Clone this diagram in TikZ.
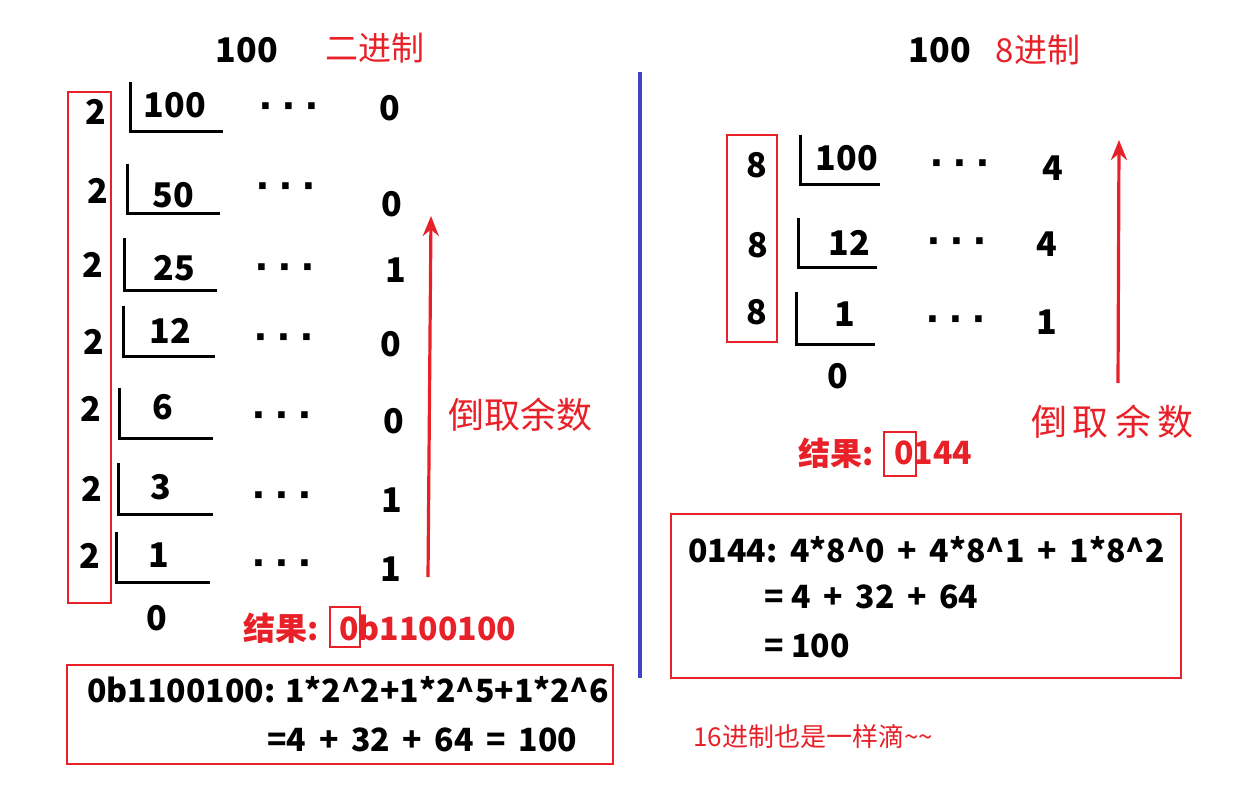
\documentclass[tikz,border=0pt]{standalone}
\usepackage{fontspec}
\setmainfont{Noto Sans CJK SC}
\newfontfamily\dotfont{Liberation Sans}
\usetikzlibrary{arrows.meta}
\definecolor{markred}{RGB}{232,32,40}
\definecolor{divblue}{RGB}{66,66,196}
\newcommand{\ellip}{·\hspace{4pt}·\hspace{4pt}·}
\tikzset{
	num/.style={font=\bfseries\fontsize{17}{17}\selectfont},
	sumtext/.style={font=\bfseries\fontsize{16}{16}\selectfont, anchor=west, inner sep=0pt},
	dots/.style={font=\dotfont\bfseries\fontsize{23}{23}\selectfont, yshift=-3.5pt},
	title/.style={text=markred, font=\fontsize{16.5}{16.5}\selectfont},
	backnote/.style={text=markred, font=\fontsize{18}{18}\selectfont},
	result/.style={text=markred, font=\bfseries\fontsize{16}{16}\selectfont},
	redbox/.style={draw=markred, line width=1.4pt},
	bracket/.style={line width=1.5pt},
	uparrow/.style={draw=markred, line width=1.6pt, -{Stealth[length=10pt,width=8pt]}}
}

\begin{document}
\begin{tikzpicture}[x=0.5pt, y=-0.5pt]
		%%%%% START %%%%%
		\useasboundingbox (0, 0) rectangle (1234, 786);
		
		% left half: 100 in base 2
		\node[num] (btitle) at (247, 50) {100};
		\node[title] (bname) at (375, 48) {二进制};
		
		\draw[redbox] (68, 92) rectangle (111, 603);
		
		\node[num] (d1) at (96, 112) {2};
		\node[num] (d2) at (98, 191) {2};
		\node[num] (d3) at (93, 265) {2};
		\node[num] (d4) at (94, 342) {2};
		\node[num] (d5) at (91, 409) {2};
		\node[num] (d6) at (92, 489) {2};
		\node[num] (d7) at (90, 556) {2};
		
		\draw[bracket] (130, 82) |- (223, 132);
		\draw[bracket] (127, 164) |- (220, 213);
		\draw[bracket] (124, 238) |- (217, 290);
		\draw[bracket] (123, 306) |- (215, 356);
		\draw[bracket] (119, 388) |- (213, 438);
		\draw[bracket] (118, 463) |- (213, 514);
		\draw[bracket] (116, 532) |- (210, 582);
		
		\node[num] (q1) at (175, 105) {100};
		\node[num] (q2) at (173, 195) {50};
		\node[num] (q3) at (174, 268) {25};
		\node[num] (q4) at (170, 331) {12};
		\node[num] (q5) at (163, 407) {6};
		\node[num] (q6) at (161, 487) {3};
		\node[num] (q7) at (159, 555) {1};
		\node[num] (q8) at (157, 618) {0};
		
		\node[dots] (s1) at (290, 105) {\ellip};
		\node[dots] (s2) at (287, 185) {\ellip};
		\node[dots] (s3) at (286, 266) {\ellip};
		\node[dots] (s4) at (285, 336) {\ellip};
		\node[dots] (s5) at (283, 414) {\ellip};
		\node[dots] (s6) at (283, 494) {\ellip};
		\node[dots] (s7) at (283, 562) {\ellip};
		
		\node[num] (r1) at (390, 108) {0};
		\node[num] (r2) at (392, 204) {0};
		\node[num] (r3) at (396, 270) {1};
		\node[num] (r4) at (391, 344) {0};
		\node[num] (r5) at (394, 421) {0};
		\node[num] (r6) at (392, 500) {1};
		\node[num] (r7) at (391, 569) {1};
		
		\coordinate (bfoot) at (428, 577);
		\coordinate (bhead) at (431, 216);
		\draw[uparrow] (bfoot) -- (bhead);
		\node[backnote] (bback) at (520, 415) {倒取余数};
		
		\node[result, anchor=east] (bres) at (326, 628) {结果:};
		\node[result, anchor=west, inner sep=0pt] (bval) at (339, 628) {0b1100100};
		\draw[redbox] (330, 607) rectangle (360, 647);
		
		\draw[redbox] (67, 665) rectangle (613, 764);
		\node[sumtext] (bsum) at (87, 690) {0b1100100: 1*2\^{}2+1*2\^{}5+1*2\^{}6};
		\node[sumtext] (btot) at (267, 740) {=4 \,+\, 32 \,+\, 64 \,=\, 100};
		
		% divider
		\draw[draw=divblue, line width=1.6pt] (640, 72) -- (640, 678);
		
		% right half: 100 in base 8
		\node[num] (otitle) at (940, 50) {100};
		\node[title] (oname) at (1038, 50) {8进制};
		
		\draw[redbox] (727, 135) rectangle (777, 342);
		
		\node[num] (od1) at (757, 165) {8};
		\node[num] (od2) at (758, 245) {8};
		\node[num] (od3) at (757, 312) {8};
		
		\draw[bracket] (800, 135) |- (880, 185);
		\draw[bracket] (798, 218) |- (877, 267);
		\draw[bracket] (796, 292) |- (875, 344);
		
		\node[num] (oq1) at (847, 158) {100};
		\node[num] (oq2) at (849, 243) {12};
		\node[num] (oq3) at (845, 314) {1};
		\node[num] (oq4) at (838, 376) {0};
		
		\node[dots] (os1) at (961, 162) {\ellip};
		\node[dots] (os2) at (958, 240) {\ellip};
		\node[dots] (os3) at (957, 318) {\ellip};
		
		\node[num] (or1) at (1053, 168) {4};
		\node[num] (or2) at (1047, 244) {4};
		\node[num] (or3) at (1047, 322) {1};
		
		\coordinate (ofoot) at (1118, 383);
		\coordinate (ohead) at (1119, 140);
		\draw[uparrow] (ofoot) -- (ohead);
		\node[backnote] (oback) at (1112, 422) {倒\hspace{3pt}取\hspace{3pt}余\hspace{3pt}数};
		
		\node[result, anchor=east] (ores) at (881, 453) {结果:};
		\node[result, anchor=west, inner sep=0pt] (oval) at (894, 453) {0144};
		\draw[redbox] (884, 432) rectangle (916, 476);
		
		\draw[redbox] (671, 514) rectangle (1181, 678);
		\node[sumtext] (osum) at (688, 550) {0144:\ \,4*8\^{}0 \,+\, 4*8\^{}1 \,+\, 1*8\^{}2};
		\node[sumtext] (otot) at (764, 597) {= 4 \,+\, 32 \,+\, 64};
		\node[sumtext] (oend) at (764, 646) {= 100};
		
		\node[text=markred, anchor=west, inner sep=0pt, font=\fontsize{13}{13}\selectfont] (hexnote) at (693, 737) {16进制也是一样滴\textasciitilde\textasciitilde};
		%%%%% END %%%%%
	\end{tikzpicture}
\end{document}
